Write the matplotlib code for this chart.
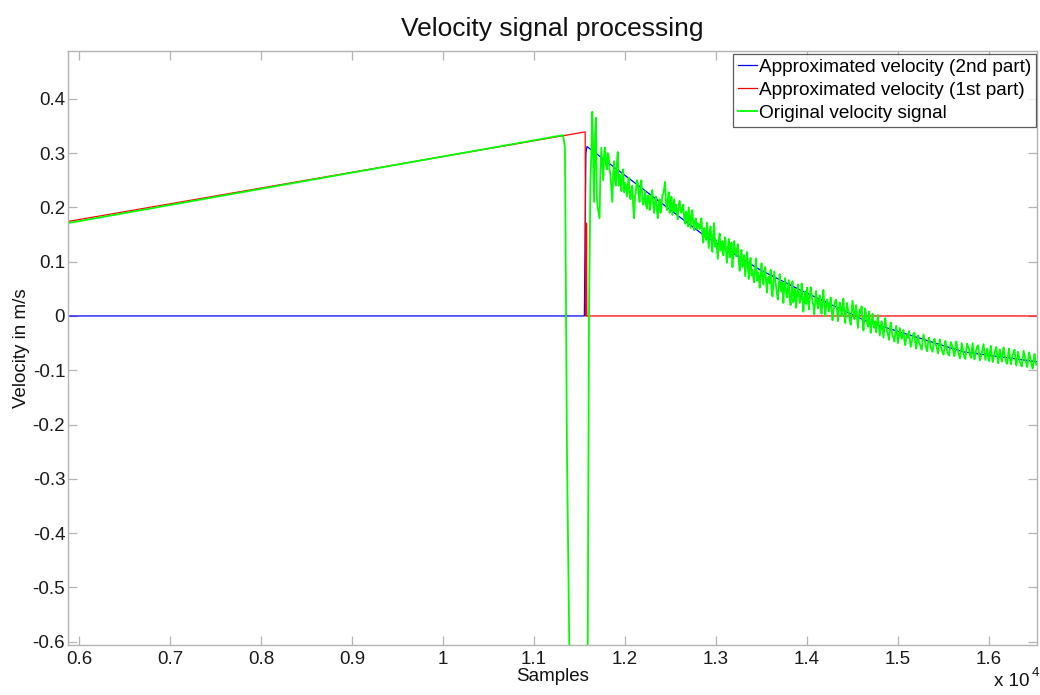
import numpy as np
import matplotlib
matplotlib.use("Agg")
import matplotlib.pyplot as plt

plt.rcParams['font.family'] = ['Liberation Sans', 'DejaVu Sans']

# ---- data -------------------------------------------------------------
# Original velocity signal: smooth ramp, sharp drop and recovery
green_head_x = [5879, 11319, 11340, 11362, 11398, 11560, 11590, 11604]
green_head_y = [0.171, 0.333, 0.310, -0.250, -0.750, -0.750, -0.620, 0.000]

# Noisy tail of the original signal, sampled every 10 samples from 11620.
# green_tail_even holds samples 11620, 11640, ...; green_tail_odd holds 11630, 11650, ...
green_tail_start = 11620
green_tail_step = 10
green_tail_even = [
    0.25, 0.376, 0.21, 0.365, 0.20, 0.18, 0.31, 0.25, 0.31, 0.27,
    0.295, 0.26, 0.21, 0.285, 0.24, 0.302, 0.26, 0.23, 0.27, 0.245,
    0.22, 0.255, 0.215, 0.24, 0.18, 0.23, 0.245, 0.21, 0.25, 0.205,
    0.23, 0.198, 0.222, 0.205, 0.232, 0.19, 0.22, 0.18, 0.215, 0.2,
    0.225, 0.247, 0.195, 0.228, 0.2, 0.186, 0.215, 0.205, 0.178, 0.212,
    0.19, 0.205, 0.17, 0.188, 0.2, 0.162, 0.195, 0.158, 0.18, 0.17,
    0.16, 0.18, 0.135, 0.15, 0.172, 0.125, 0.165, 0.118, 0.171, 0.14,
    0.105, 0.152, 0.13, 0.112, 0.145, 0.098, 0.142, 0.12, 0.09, 0.138,
    0.11, 0.132, 0.083, 0.122, 0.1, 0.073, 0.118, 0.068, 0.107, 0.085,
    0.062, 0.106, 0.08, 0.052, 0.097, 0.058, 0.09, 0.043, 0.072, 0.085,
    0.036, 0.082, 0.055, 0.03, 0.077, 0.045, 0.024, 0.07, 0.034, 0.066,
    0.02, 0.064, 0.04, 0.015, 0.058, 0.024, 0.06, 0.008, 0.045, 0.052,
    0.012, 0.053, 0.025, 0.003, 0.046, 0.014, 0.038, 0.004, 0.048, 0.0,
    0.03, 0.008, 0.034, -0.008, 0.02, 0.03, -0.01, 0.025, 0.0, 0.032,
    -0.013, 0.024, 0.005, -0.016, 0.028, -0.006, 0.02, -0.022, 0.012, 0.018,
    -0.027, 0.014, -0.012, 0.008, -0.031, 0.004, -0.022, -0.03, 0.002, -0.036,
    -0.01, -0.04, -0.004, -0.028, -0.044, -0.012, -0.036, -0.047, -0.018, -0.05,
    -0.022, -0.042, -0.026, -0.054, -0.035, -0.028, -0.057, -0.04, -0.031, -0.06,
    -0.036, -0.052, -0.062, -0.034, -0.05, -0.065, -0.04, -0.058, -0.066, -0.042,
    -0.055, -0.069, -0.043, -0.062, -0.071, -0.046, -0.066, -0.073, -0.048, -0.058,
    -0.074, -0.047, -0.064, -0.078, -0.05, -0.07, -0.079, -0.051, -0.061, -0.077,
    -0.05, -0.08, -0.062, -0.054, -0.082, -0.068, -0.052, -0.081, -0.06, -0.083,
    -0.055, -0.085, -0.07, -0.057, -0.087, -0.062, -0.084, -0.058, -0.078, -0.088,
    -0.06, -0.089, -0.072, -0.062, -0.091, -0.066, -0.085, -0.093, -0.064, -0.08,
    -0.094, -0.067, -0.083, -0.097, -0.07, -0.09,
]
green_tail_odd = [
    0.30, 0.29, 0.33, 0.22, 0.19, 0.27, 0.28, 0.295, 0.28, 0.30,
    0.27, 0.235, 0.26, 0.25, 0.28, 0.24, 0.25, 0.262, 0.228, 0.24,
    0.24, 0.225, 0.232, 0.20, 0.22, 0.25, 0.225, 0.238, 0.218, 0.215,
    0.205, 0.222, 0.195, 0.225, 0.205, 0.212, 0.195, 0.205, 0.19, 0.222,
    0.235, 0.21, 0.215, 0.19, 0.22, 0.20, 0.192, 0.19, 0.205, 0.195,
    0.198, 0.18, 0.192, 0.165, 0.18, 0.185, 0.17, 0.175, 0.16, 0.168,
    0.172, 0.15, 0.162, 0.14, 0.148, 0.155, 0.138, 0.15, 0.128, 0.122,
    0.14, 0.12, 0.138, 0.13, 0.118, 0.128, 0.108, 0.135, 0.112, 0.12,
    0.122, 0.10, 0.11, 0.09, 0.112, 0.095, 0.09, 0.098, 0.075, 0.07,
    0.09, 0.065, 0.072, 0.078, 0.068, 0.082, 0.062, 0.07, 0.06, 0.05,
    0.06, 0.068, 0.04, 0.058, 0.05, 0.062, 0.052, 0.045, 0.05, 0.03,
    0.045, 0.025, 0.05, 0.035, 0.042, 0.03, 0.038, 0.03, 0.022, 0.03,
    0.035, 0.04, 0.02, 0.03, 0.025, 0.03, 0.015, 0.03, 0.02, 0.018,
    0.022, 0.02, 0.012, 0.008, 0.028, 0.01, 0.012, 0.014, 0.02, 0.005,
    0.008, 0.012, -0.008, 0.01, 0.01, 0.005, -0.004, 0.0, 0.005, -0.008,
    -0.004, 0.0, -0.02, -0.01, -0.012, -0.015, -0.01, -0.012, -0.02, -0.02,
    -0.025, -0.02, -0.018, -0.035, -0.025, -0.028, -0.04, -0.032, -0.035, -0.035,
    -0.035, -0.032, -0.045, -0.04, -0.04, -0.045, -0.048, -0.032, -0.05, -0.045,
    -0.048, -0.058, -0.045, -0.042, -0.06, -0.05, -0.048, -0.062, -0.052, -0.05,
    -0.062, -0.052, -0.055, -0.068, -0.058, -0.055, -0.07, -0.06, -0.052, -0.068,
    -0.06, -0.058, -0.072, -0.065, -0.06, -0.076, -0.062, -0.057, -0.072, -0.063,
    -0.068, -0.07, -0.056, -0.07, -0.075, -0.06, -0.068, -0.07, -0.074, -0.066,
    -0.072, -0.078, -0.062, -0.074, -0.072, -0.075, -0.068, -0.072, -0.086, -0.07,
    -0.077, -0.08, -0.068, -0.078, -0.08, -0.076, -0.09, -0.077, -0.072, -0.088,
    -0.08, -0.075, -0.092, -0.082, -0.085,
]

# Approximated velocity, 1st part (linear ramp, then zero)
red_x = [5879, 11562, 11566, 11574, 11577, 11580, 16600]
red_y = [0.174, 0.339, 0.000, 0.000, 0.171, 0.000, 0.000]

# Approximated velocity, 2nd part (zero, then decaying curve)
blue_x = [5879, 11553, 11570, 11582, 12879, 13484, 13923, 14670, 15714, 16600]
blue_y = [0.000, 0.000, 0.300, 0.312, 0.147, 0.085, 0.048, -0.011, -0.066, -0.086]

x_ticks = [6000, 7000, 8000, 9000, 10000, 11000, 12000, 13000, 14000, 15000, 16000]
x_tick_labels = ['0.6', '0.7', '0.8', '0.9', '1', '1.1', '1.2', '1.3', '1.4', '1.5', '1.6']
y_ticks = [0.4, 0.3, 0.2, 0.1, 0.0, -0.1, -0.2, -0.3, -0.4, -0.5, -0.6]
y_tick_labels = ['0.4', '0.3', '0.2', '0.1', '0', '-0.1', '-0.2', '-0.3', '-0.4', '-0.5', '-0.6']

# ---- figure -----------------------------------------------------------
W, H = 1040, 695
fig = plt.figure(figsize=(W / 100, H / 100), dpi=100)
ax_l, ax_r, ax_t, ax_b = 68, 1037, 51, 645
ax = fig.add_axes([ax_l / W, 1 - ax_b / H, (ax_r - ax_l) / W, (ax_b - ax_t) / H])

tail_y = np.empty(len(green_tail_even) + len(green_tail_odd))
tail_y[0::2] = green_tail_even
tail_y[1::2] = green_tail_odd
tail_x = green_tail_start + green_tail_step * np.arange(len(tail_y))
green_x = np.concatenate([green_head_x, tail_x])
green_y = np.concatenate([green_head_y, tail_y])

ax.plot(blue_x, blue_y, color='#0000ff', lw=0.9, label='Approximated velocity (2nd part)')
ax.plot(red_x, red_y, color='#ff0000', lw=0.9, label='Approximated velocity (1st part)')
ax.plot(green_x, green_y, color='#00ff00', lw=1.3, label='Original velocity signal')

ax.set_xlim(5879, 16527)
ax.set_ylim(-0.606, 0.488)
ax.set_xticks(x_ticks)
ax.set_xticklabels(x_tick_labels)
ax.set_yticks(y_ticks)
ax.set_yticklabels(y_tick_labels)

axis_grey = '#b4b4b4'
for sp in ax.spines.values():
    sp.set_color(axis_grey)
    sp.set_linewidth(1.0)
ax.tick_params(direction='in', length=6.5, width=0.9, color=axis_grey,
               top=True, right=True, labelsize=13.5, labelcolor='#1a1a1a')
ax.tick_params(axis='x', pad=4)
ax.tick_params(axis='y', pad=2)

ax.set_title('Velocity signal processing', fontsize=19, pad=11, color='#111111')
ax.set_xlabel('Samples', fontsize=13.5, labelpad=0, color='#111111')
ax.set_ylabel('Velocity in m/s', fontsize=13.5, labelpad=2, color='#111111')

# exponent label for the x axis
fig.text(1030 / W, 1 - 686 / H, 'x 10', fontsize=13.5, ha='right', va='baseline', color='#111111')
fig.text(1032 / W, 1 - 676 / H, '4', fontsize=9.5, ha='left', va='baseline', color='#111111')

leg = ax.legend(loc='upper right', bbox_to_anchor=(1 - 1 / (ax_r - ax_l), 1 - 3 / (ax_b - ax_t)),
                fontsize=13.7, frameon=True, fancybox=False, borderaxespad=0,
                borderpad=0.25, labelspacing=0.3, handlelength=1.0, handletextpad=0.12)
leg.get_frame().set_edgecolor('#333333')
leg.get_frame().set_linewidth(0.9)

fig.savefig('out.png', dpi=100)
